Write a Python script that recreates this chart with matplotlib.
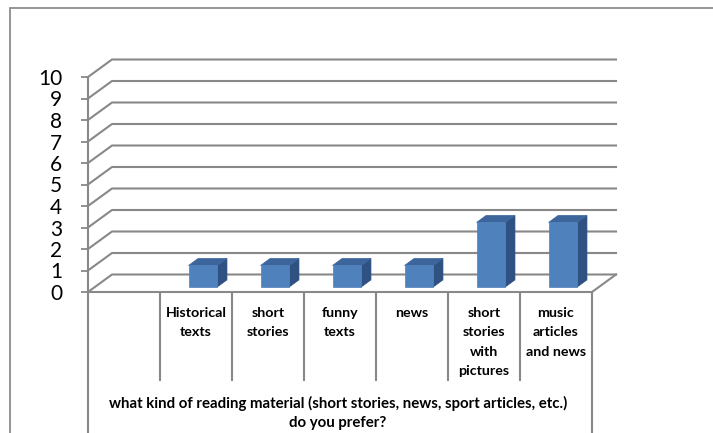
import matplotlib
matplotlib.use('Agg')
import matplotlib.pyplot as plt
from matplotlib.patches import Polygon, Rectangle
from matplotlib.lines import Line2D
from matplotlib.transforms import ScaledTranslation, IdentityTransform
import numpy as np

# ---- data ----
categories = ['', 'Historical\ntexts', 'short\nstories', 'funny\ntexts', 'news',
              'short\nstories\nwith\npictures', 'music\narticles\nand news']
values = [0, 1, 1, 1, 1, 3, 3]
y_ticks = list(range(0, 11))
axis_title = 'what kind of reading material (short stories, news, sport articles, etc.)\ndo you prefer?'

# ---- style ----
W, H, DPI = 713, 433, 100
GRID = '#888888'
FRONT, TOP, SIDE = '#4F81BD', '#3C669B', '#2F5283'
plt.rcParams['font.family'] = ['Lato', 'DejaVu Sans']

fig = plt.figure(figsize=(W / DPI, H / DPI), dpi=DPI)
fig.patch.set_facecolor('white')
ax = fig.add_axes([88 / W, (H - 292) / H, 504 / W, 215 / H])
ax.set_xlim(0, len(categories))
ax.set_ylim(0, 10)
ax.patch.set_alpha(0)

DEPTH = (24.0, 17.5)  # pixel offset of the back wall


def P(x, y, f):
    tf = ax.transData + ScaledTranslation(f * DEPTH[0] / DPI, f * DEPTH[1] / DPI, fig.dpi_scale_trans)
    return tf.transform((x, y))


ID = IdentityTransform()
n = len(categories)

# gridlines on the side wall and back wall
for v in y_ticks:
    pts = np.array([P(0, v, 0), P(0, v, 1), P(n, v, 1)])
    fig.add_artist(Line2D(pts[:, 0], pts[:, 1], transform=ID, color=GRID, lw=1.5, zorder=1))
# floor right edge
pts = np.array([P(n, 0, 0), P(n, 0, 1)])
fig.add_artist(Line2D(pts[:, 0], pts[:, 1], transform=ID, color=GRID, lw=1.5, zorder=1))

# bars
f0, f1, bw = 0.29, 0.69, 0.4
for i, v in enumerate(values):
    if v <= 0:
        continue
    x0, x1 = i + 0.5 - bw / 2, i + 0.5 + bw / 2
    front = [P(x0, 0, f0), P(x1, 0, f0), P(x1, v, f0), P(x0, v, f0)]
    top = [P(x0, v, f0), P(x1, v, f0), P(x1, v, f1), P(x0, v, f1)]
    side = [P(x1, 0, f0), P(x1, 0, f1), P(x1, v, f1), P(x1, v, f0)]
    for poly, c in ((side, SIDE), (top, TOP), (front, FRONT)):
        fig.add_artist(Polygon(poly, closed=True, transform=ID, facecolor=c,
                               edgecolor=c, lw=0.5, zorder=3))

# axes / spines
for s in ('top', 'right'):
    ax.spines[s].set_visible(False)
ax.spines['left'].set_color(GRID)
ax.spines['left'].set_linewidth(1.5)
ax.spines['bottom'].set_color(GRID)
ax.spines['bottom'].set_linewidth(1.5)

ax.set_yticks(y_ticks)
ax.set_yticklabels([str(t) for t in y_ticks])
ax.tick_params(axis='y', length=5, width=1.3, color=GRID, pad=13.5, labelsize=15, labelcolor='black')

ax.set_xticks(np.arange(n) + 0.5)
ax.set_xticklabels(categories, fontsize=10.3, fontweight='bold', linespacing=1.72)
ax.tick_params(axis='x', length=0, pad=11)

# category separators
xt = ax.get_xaxis_transform()
ax.vlines(np.arange(1, n), -0.414, 0, transform=xt, color=GRID, lw=1.5, clip_on=False)
ax.vlines([0, n], -0.8, 0, transform=xt, color=GRID, lw=1.5, clip_on=False)

# outer level label
fig.text(338 / W, (H - 413) / H, axis_title, ha='center', va='center',
         fontsize=10.8, fontweight='bold', linespacing=1.5)

# chart border
fig.add_artist(Rectangle((10 / W, -0.2), 1.2, (H - 8) / H + 0.2, transform=fig.transFigure,
                         fill=False, edgecolor='#8C8C8C', lw=1.3))

fig.savefig('out.png', dpi=DPI)
